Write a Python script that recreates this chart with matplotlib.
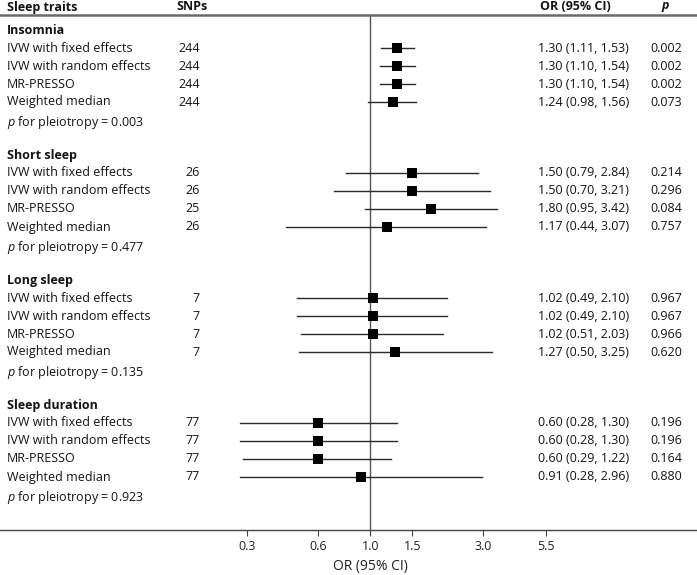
import numpy as np
import matplotlib
matplotlib.use("Agg")
import matplotlib.pyplot as plt
from matplotlib import transforms

plt.rcParams['font.family'] = ['Open Sans', 'DejaVu Sans']
plt.rcParams['mathtext.fontset'] = 'custom'
plt.rcParams['mathtext.rm'] = 'Open Sans'
plt.rcParams['mathtext.it'] = 'Open Sans:italic'
plt.rcParams['mathtext.bf'] = 'Open Sans:bold:italic'

# data
traits = ["Insomnia", "Short sleep", "Long sleep", "Sleep duration"]
methods = ["IVW with fixed effects", "IVW with random effects", "MR-PRESSO", "Weighted median"]
snps = [[244, 244, 244, 244], [26, 26, 25, 26], [7, 7, 7, 7], [77, 77, 77, 77]]
or_est = [[1.30, 1.30, 1.30, 1.24], [1.50, 1.50, 1.80, 1.17],
          [1.02, 1.02, 1.02, 1.27], [0.60, 0.60, 0.60, 0.91]]
ci_low = [[1.11, 1.10, 1.10, 0.98], [0.79, 0.70, 0.95, 0.44],
          [0.49, 0.49, 0.51, 0.50], [0.28, 0.28, 0.29, 0.28]]
ci_high = [[1.53, 1.54, 1.54, 1.56], [2.84, 3.21, 3.42, 3.07],
           [2.10, 2.10, 2.03, 3.25], [1.30, 1.30, 1.22, 2.96]]
p_vals = [["0.002", "0.002", "0.002", "0.073"], ["0.214", "0.296", "0.084", "0.757"],
          ["0.967", "0.967", "0.966", "0.620"], ["0.196", "0.196", "0.164", "0.880"]]
p_pleio = ["0.003", "0.477", "0.135", "0.923"]
xticks = [0.3, 0.6, 1.0, 1.5, 3.0, 5.5]

W, H = 697, 575
fig = plt.figure(figsize=(W / 100, H / 100), dpi=100)

# text layer in pixel coordinates
tab = fig.add_axes([0, 0, 1, 1])
tab.set_xlim(0, W)
tab.set_ylim(H, 0)
tab.axis("off")

# forest axes: spans full width, log scale
top_px, bot_px = 15, 530
ax = fig.add_axes([0, (H - bot_px) / H, 1, (bot_px - top_px) / H])
px_per_ln = 102.8
x_one = 370.5
ax.set_xscale("log")
ax.set_xlim(np.exp(-x_one / px_per_ln), np.exp((W - x_one) / px_per_ln))
ax.set_ylim(bot_px, top_px)
ax.set_yticks([])
ax.patch.set_alpha(0)
for s in ["left", "right"]:
    ax.spines[s].set_visible(False)
ax.spines["top"].set_color("#6a6a6a")
ax.spines["top"].set_linewidth(1.8)
ax.spines["bottom"].set_color("#444444")
ax.spines["bottom"].set_linewidth(1.0)
ax.set_xticks(xticks)
ax.set_xticklabels([f"{t:.1f}" for t in xticks])
ax.xaxis.set_minor_locator(matplotlib.ticker.NullLocator())
ax.tick_params(axis="x", length=4.5, width=0.8, color="#444444", labelsize=9,
               labelcolor="#222222", pad=3)
ax.axvline(1.0, color="#555555", lw=1.0, zorder=1)
ax.set_xlabel("OR (95% CI)", fontsize=10, color="#222222")
ax.xaxis.set_label_coords(1.0, -0.056,
                          transform=transforms.blended_transform_factory(ax.transData, ax.transAxes))

fs = 9
tc = "#141414"
# header
tab.text(7, 7, "Sleep traits", fontsize=fs, fontweight="bold", va="center", color=tc)
tab.text(176, 7, "SNPs", fontsize=fs, fontweight="bold", va="center", color=tc)
tab.text(540, 7, "OR (95% CI)", fontsize=fs, fontweight="bold", va="center", color=tc)
tab.text(666, 7, r"$\mathbf{p}$", fontsize=fs, va="center", ha="center", color=tc)

for g, trait in enumerate(traits):
    y0 = 30.5 + 125 * g
    tab.text(7, y0, trait, fontsize=fs, fontweight="bold", va="center", color=tc)
    for i, m in enumerate(methods):
        y = y0 + 17.5 + 18 * i
        tab.text(7, y, m, fontsize=fs, va="center", color=tc)
        tab.text(200, y, str(snps[g][i]), fontsize=fs, va="center", ha="right", color=tc)
        tab.text(538, y, f"{or_est[g][i]:.2f} ({ci_low[g][i]:.2f}, {ci_high[g][i]:.2f})",
                 fontsize=fs, va="center", color=tc)
        tab.text(650, y, p_vals[g][i], fontsize=fs, va="center", color=tc)
        ax.plot([ci_low[g][i], ci_high[g][i]], [y, y], color="#2a2a2a", lw=1.0, zorder=2)
        ax.plot(or_est[g][i], y, marker="s", ms=6.6, mew=0, color="black", zorder=3)
    tab.text(7, y0 + 92, r"$\mathit{p}$ for pleiotropy = " + p_pleio[g],
             fontsize=fs, va="center", color=tc)

fig.savefig("out.png", dpi=100)
